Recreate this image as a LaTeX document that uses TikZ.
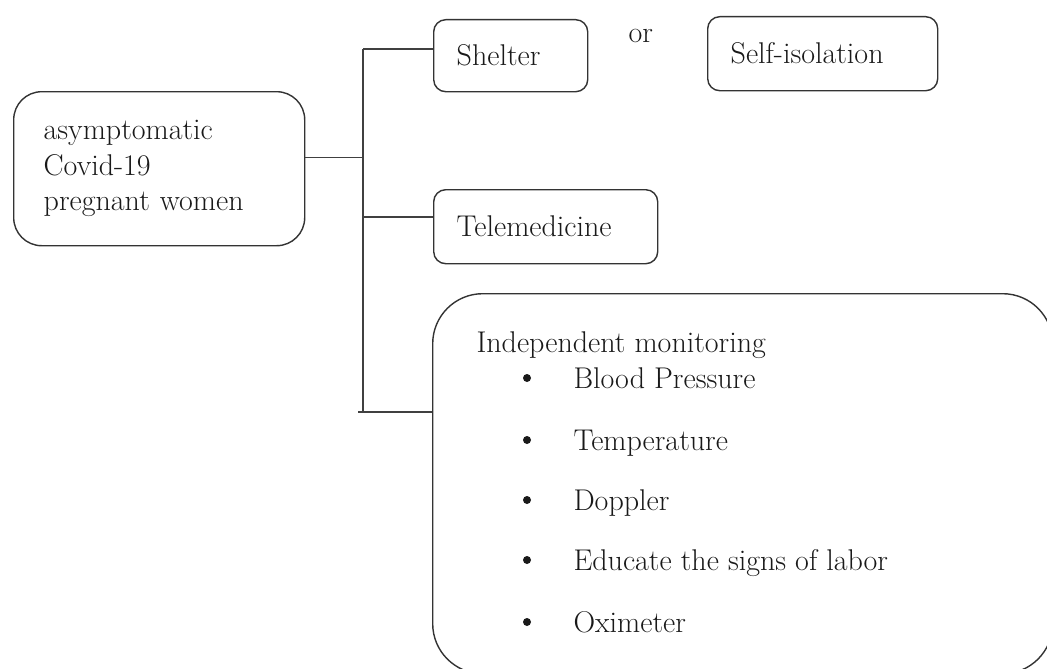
\documentclass[tikz,border=0pt]{standalone}
\usepackage{tikz}
\usetikzlibrary{positioning}
\begin{document}
\begin{tikzpicture}[x=1pt,y=-1pt,
  every node/.style={font=\fontsize{30}{35.5}\selectfont,text=black!90},
  box/.style={draw=black!80,line width=1.4pt,rounded corners=12pt,anchor=north west,
    inner xsep=23pt,inner ysep=0pt,align=left},
  link/.style={draw=black!75,line width=1.4pt},
  item/.style={anchor=base west},
  dot/.style={circle,fill=black!90,inner sep=0pt,minimum size=8pt}]
\useasboundingbox (0,0) rectangle (1047,669);
\clip (0,0) rectangle (1047,669);

% source
\node[box,rounded corners=28pt,inner xsep=30pt,text width=231pt,minimum height=154pt]
  (women) at (13,91) {asymptomatic\\Covid-19\\pregnant women};

% choices
\node[box,text width=108pt,minimum height=72pt] (shelter) at (433,19) {Shelter};
\node[anchor=base west] (or) at (625,43) {or};
\node[box,text width=184pt,minimum height=74pt] (isolation) at (707,16) {Self-isolation};
\node[box,text width=178pt,minimum height=74pt] (tele) at (433,189) {Telemedicine};
\node[box,rounded corners=50pt,minimum width=620pt,minimum height=380pt] (monitor) at (432,293) {};

% list
\node[item] (head) at (473,352) {Independent monitoring};
\foreach \txt/\yy [count=\i] in {Blood Pressure/388,Temperature/450,Doppler/510,Educate the signs of labor/570,Oximeter/632}{
  \node[dot] (dot\i) at (527,\yy-10) {};
  \node[item] (it\i) at (570,\yy) {\txt};
}

% tree
\coordinate (s1) at (363,49);
\coordinate (s2) at (363,217);
\coordinate (s3) at (358,412);
\draw[link] ([yshift=11pt]women.east) -- ([yshift=11pt]women.east -| s1);
\draw[link] (s1) -- (s1 |- s3);
\draw[link] (s1) -- (s1 -| shelter.west);
\draw[link] (s2) -- (s2 -| tele.west);
\draw[link] (s3) -- (s3 -| monitor.west);
\end{tikzpicture}
\end{document}
